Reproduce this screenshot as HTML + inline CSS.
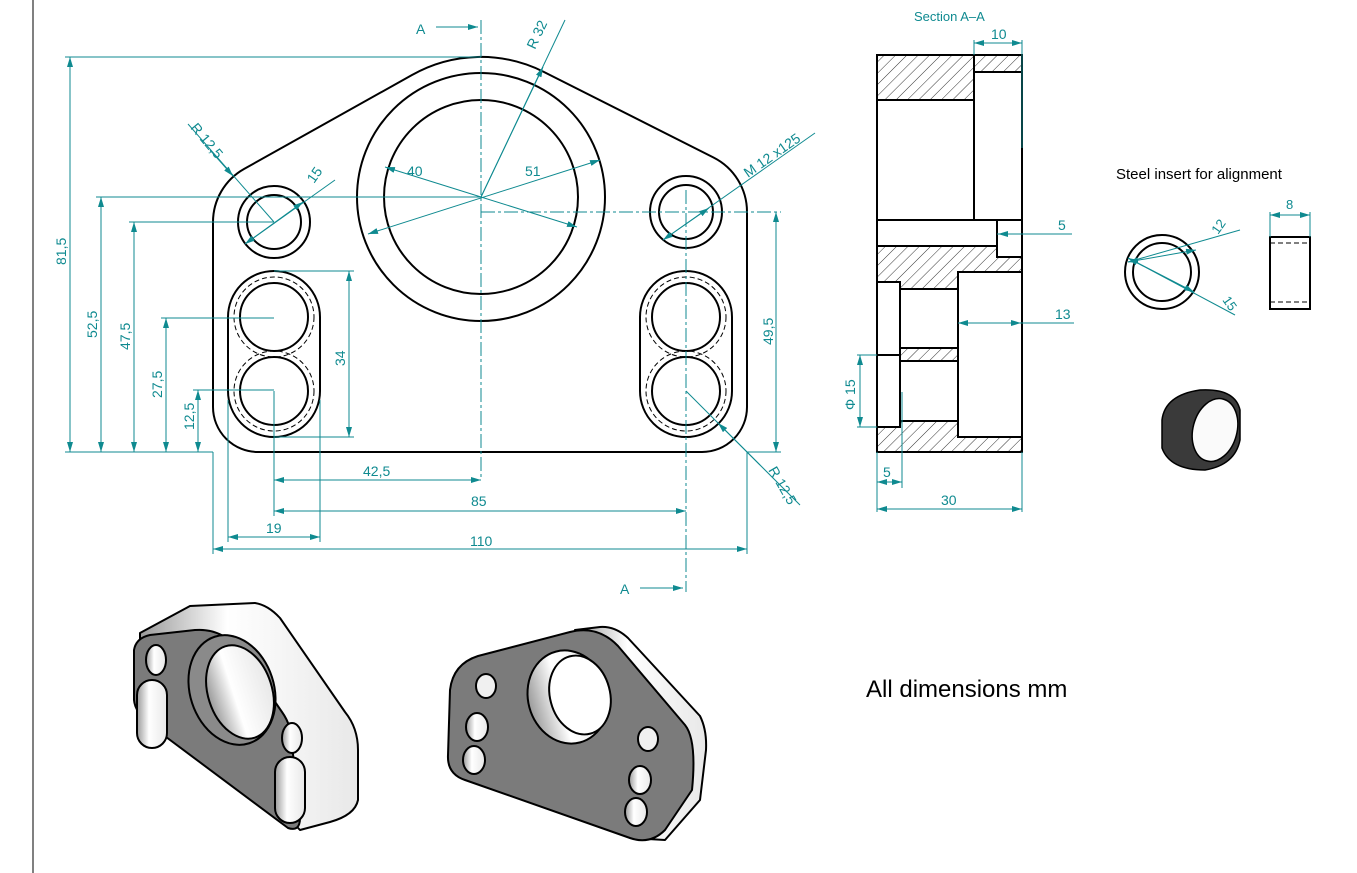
<!DOCTYPE html>
<html><head><meta charset="utf-8"><style>
html,body{margin:0;padding:0;background:#fff;}
svg{display:block;}
text{font-family:"Liberation Sans",sans-serif;}
</style></head><body>
<svg width="1357" height="873" viewBox="0 0 1357 873" xmlns="http://www.w3.org/2000/svg">
<defs>
<pattern id="h" patternUnits="userSpaceOnUse" width="8" height="8" patternTransform="rotate(45)">
<line x1="0" y1="0" x2="0" y2="8" stroke="#000" stroke-width="0.8"/>
</pattern>
<marker id="a" viewBox="0 0 10 6" refX="10" refY="3" markerWidth="10" markerHeight="6" orient="auto-start-reverse" markerUnits="userSpaceOnUse">
<path d="M0,0 L10,3 L0,6 z" fill="#0f8a90"/>
</marker>
<linearGradient id="gw" x1="0" y1="0" x2="1" y2="0"><stop offset="0" stop-color="#9a9a9a"/><stop offset="0.4" stop-color="#fff"/><stop offset="1" stop-color="#e8e8e8"/></linearGradient>
</defs>
<line x1="33" y1="0" x2="33" y2="873" stroke="#000" stroke-width="1"/>

<g fill="none" stroke="#000" stroke-width="2">
<path d="M213,222 L213,407 A45,45 0 0 0 258,452 L702,452 A45,45 0 0 0 747,407 L747,212 A61,61 0 0 0 713.5,157.5 L544,72 A140,140 0 0 0 412,75 L244,169 A61,61 0 0 0 213,222 Z"/>
<circle cx="481" cy="197" r="124"/>
<circle cx="481" cy="197" r="97"/>
<circle cx="274" cy="222" r="36"/><circle cx="274" cy="222" r="27"/>
<circle cx="686" cy="212" r="36"/><circle cx="686" cy="212" r="27"/>
<rect x="228" y="271" width="92" height="166" rx="46"/>
<rect x="640" y="271" width="92" height="166" rx="46"/>
<circle cx="274" cy="317" r="34"/><circle cx="274" cy="391" r="34"/>
<circle cx="686" cy="317" r="34"/><circle cx="686" cy="391" r="34"/>
</g>
<g fill="none" stroke="#000" stroke-width="1" stroke-dasharray="5,3">
<circle cx="274" cy="317" r="40"/><circle cx="274" cy="391" r="40"/>
<circle cx="686" cy="317" r="40"/><circle cx="686" cy="391" r="40"/>
</g>

<g stroke="#0f8a90" stroke-width="1" fill="none">
<line x1="481" y1="20" x2="481" y2="480" stroke-dasharray="14,3,3,3"/>
<line x1="686" y1="190" x2="686" y2="592" stroke-dasharray="14,3,3,3"/>
<line x1="481" y1="212" x2="781" y2="212" stroke-dasharray="14,3,3,3"/>
<line x1="436" y1="27" x2="478" y2="27" marker-end="url(#a)"/>
<line x1="640" y1="588" x2="683" y2="588" marker-end="url(#a)"/>
<line x1="65" y1="57" x2="481" y2="57"/>
<line x1="65" y1="452" x2="213" y2="452"/>
<line x1="747" y1="452" x2="781" y2="452"/>
<line x1="96" y1="197" x2="481" y2="197"/>
<line x1="129" y1="222" x2="274" y2="222"/>
<line x1="161" y1="318" x2="274" y2="318"/>
<line x1="193" y1="390" x2="274" y2="390"/>
<line x1="274" y1="271" x2="354" y2="271"/>
<line x1="274" y1="437" x2="354" y2="437"/>
<line x1="70" y1="57" x2="70" y2="452" marker-start="url(#a)" marker-end="url(#a)"/>
<line x1="101" y1="197" x2="101" y2="452" marker-start="url(#a)" marker-end="url(#a)"/>
<line x1="134" y1="222" x2="134" y2="452" marker-start="url(#a)" marker-end="url(#a)"/>
<line x1="166" y1="318" x2="166" y2="452" marker-start="url(#a)" marker-end="url(#a)"/>
<line x1="198" y1="390" x2="198" y2="452" marker-start="url(#a)" marker-end="url(#a)"/>
<line x1="349" y1="271" x2="349" y2="437" marker-start="url(#a)" marker-end="url(#a)"/>
<line x1="776" y1="212" x2="776" y2="452" marker-start="url(#a)" marker-end="url(#a)"/>
<line x1="274" y1="391" x2="274" y2="516"/>
<line x1="228" y1="400" x2="228" y2="542"/>
<line x1="320" y1="400" x2="320" y2="542"/>
<line x1="213" y1="452" x2="213" y2="554"/>
<line x1="747" y1="452" x2="747" y2="554"/>
<line x1="274" y1="480" x2="481" y2="480" marker-start="url(#a)" marker-end="url(#a)"/>
<line x1="274" y1="511" x2="686" y2="511" marker-start="url(#a)" marker-end="url(#a)"/>
<line x1="228" y1="537" x2="320" y2="537" marker-start="url(#a)" marker-end="url(#a)"/>
<line x1="213" y1="549" x2="747" y2="549" marker-start="url(#a)" marker-end="url(#a)"/>
<line x1="481" y1="197" x2="565" y2="20" />
<line x1="481" y1="197" x2="543" y2="67" marker-end="url(#a)"/>
<line x1="368" y1="234" x2="600" y2="160" marker-start="url(#a)" marker-end="url(#a)"/>
<line x1="385" y1="167" x2="481" y2="197" marker-start="url(#a)"/>
<line x1="481" y1="197" x2="577" y2="227" marker-end="url(#a)"/>
<line x1="188" y1="124" x2="274" y2="222"/>
<line x1="210" y1="150" x2="233" y2="176" marker-end="url(#a)"/>
<line x1="245" y1="244" x2="335" y2="180"/>
<line x1="303" y1="202" x2="245" y2="244" marker-start="url(#a)" marker-end="url(#a)"/>
<line x1="663" y1="240" x2="815" y2="133"/>
<line x1="709" y1="208" x2="663" y2="240" marker-start="url(#a)" marker-end="url(#a)"/>
<line x1="686" y1="391" x2="800" y2="505"/>
<line x1="760" y1="465" x2="718" y2="423" marker-end="url(#a)"/>
</g>
<g fill="#0f8a90" font-size="14">
<text x="416" y="34">A</text>
<text x="620" y="594">A</text>
<text transform="translate(66,265) rotate(-90)">81,5</text>
<text transform="translate(97,338) rotate(-90)">52,5</text>
<text transform="translate(130,350) rotate(-90)">47,5</text>
<text transform="translate(162,398) rotate(-90)">27,5</text>
<text transform="translate(194,430) rotate(-90)">12,5</text>
<text transform="translate(345,366) rotate(-90)">34</text>
<text transform="translate(773,345) rotate(-90)">49,5</text>
<text x="363" y="476">42,5</text>
<text x="471" y="506">85</text>
<text x="266" y="533">19</text>
<text x="470" y="546">110</text>
<text transform="translate(535,50) rotate(-65)">R 32</text>
<text x="407" y="176">40</text>
<text x="525" y="176">51</text>
<text transform="translate(190,128) rotate(50)">R 12,5</text>
<text transform="translate(314,184) rotate(-55)">15</text>
<text transform="translate(748,178) rotate(-35)">M 12 x125</text>
<text transform="translate(768,470) rotate(60)">R 12,5</text>
</g>

<text x="914" y="21" fill="#0f8a90" font-size="13">Section A–A</text>
<g stroke="#000" stroke-width="2">
<rect x="877" y="55" width="97" height="45" fill="url(#h)"/>
<rect x="974" y="55" width="48" height="17" fill="url(#h)"/>
<path d="M877,246 L997,246 L997,257 L1022,257 L1022,272 L958,272 L958,289 L900,289 L900,282 L877,282 Z" fill="url(#h)"/>
<rect x="900" y="348" width="58" height="13" fill="url(#h)"/>
<path d="M877,427 L900,427 L900,421 L958,421 L958,437 L1022,437 L1022,452 L877,452 Z" fill="url(#h)"/>
<rect x="877" y="55" width="145" height="397" fill="none"/>
<path d="M974,72 L974,220 M877,220 L1022,220 M997,220 L997,257 M877,355 L900,355 M900,282 L900,427 M958,272 L958,437" fill="none"/>
</g>
<g stroke="#0f8a90" stroke-width="1" fill="none">
<line x1="974" y1="40" x2="974" y2="55"/><line x1="1022" y1="40" x2="1022" y2="148"/>
<line x1="974" y1="43" x2="1022" y2="43" marker-start="url(#a)" marker-end="url(#a)"/>
<line x1="997" y1="234" x2="1072" y2="234"/>
<line x1="1010" y1="234" x2="998" y2="234" marker-end="url(#a)"/>
<line x1="958" y1="323" x2="1074" y2="323" marker-start="url(#a)"/>
<line x1="1010" y1="323" x2="1021" y2="323" marker-end="url(#a)"/>
<line x1="857" y1="355" x2="877" y2="355"/><line x1="857" y1="427" x2="877" y2="427"/>
<line x1="860" y1="355" x2="860" y2="427" marker-start="url(#a)" marker-end="url(#a)"/>
<line x1="877" y1="452" x2="877" y2="512"/><line x1="1022" y1="452" x2="1022" y2="512"/>
<line x1="902" y1="392" x2="902" y2="488"/>
<line x1="877" y1="482" x2="902" y2="482" marker-start="url(#a)" marker-end="url(#a)"/>
<line x1="877" y1="509" x2="1022" y2="509" marker-start="url(#a)" marker-end="url(#a)"/>
</g>
<g fill="#0f8a90" font-size="14">
<text x="991" y="39">10</text>
<text x="1058" y="230">5</text>
<text x="1055" y="319">13</text>
<text transform="translate(855,410) rotate(-90)">Φ 15</text>
<text x="883" y="477">5</text>
<text x="941" y="505">30</text>
</g>

<text x="1116" y="179" font-size="15" fill="#000">Steel insert for alignment</text>
<g stroke="#000" stroke-width="2" fill="none">
<circle cx="1162" cy="272" r="37"/><circle cx="1162" cy="272" r="29"/>
<rect x="1270" y="237" width="40" height="72"/>
</g>
<g stroke="#000" stroke-width="1" stroke-dasharray="5,3"><line x1="1270" y1="243" x2="1310" y2="243"/><line x1="1270" y1="302" x2="1310" y2="302"/></g>
<g stroke="#0f8a90" stroke-width="1" fill="none">
<line x1="1270" y1="212" x2="1270" y2="237"/><line x1="1310" y1="212" x2="1310" y2="237"/>
<line x1="1270" y1="215" x2="1310" y2="215" marker-start="url(#a)" marker-end="url(#a)"/>
<line x1="1128" y1="262" x2="1240" y2="230"/>
<line x1="1196" y1="250" x2="1128" y2="262" marker-start="url(#a)" marker-end="url(#a)"/>
<line x1="1128" y1="258" x2="1235" y2="315"/>
<line x1="1128" y1="258" x2="1194" y2="292" marker-start="url(#a)" marker-end="url(#a)"/>
</g>
<g fill="#0f8a90" font-size="13">
<text x="1286" y="209">8</text>
<text transform="translate(1218,235) rotate(-55)">12</text>
<text transform="translate(1222,300) rotate(55)">15</text>
</g>
<g stroke="#000" stroke-width="1.5">
<path d="M1162,420 Q1165,395 1200,390 Q1235,388 1240,410 L1240,440 Q1235,465 1205,470 Q1170,470 1162,448 Z" fill="#3a3a3a"/>
<ellipse cx="1215" cy="430" rx="22" ry="32" fill="#fafafa" transform="rotate(15 1215 430)"/>
</g>

<text x="866" y="697" font-size="24" fill="#000">All dimensions mm</text>

<g stroke="#000" stroke-width="2" stroke-linejoin="round">
<path d="M140,633 L190,606 L255,603 Q268,605 280,618 L345,712 Q358,728 358,750 L358,800 Q355,815 330,822 L300,830 L140,660 Z" fill="url(#gw)"/>
<path d="M134,650 Q136,638 150,635 L195,630 Q220,628 238,648 L282,712 Q292,726 292,745 L300,818 Q300,832 288,828 L150,725 Q135,712 134,700 Z" fill="#7b7b7b"/>
<ellipse cx="232" cy="690" rx="42" ry="56" fill="#8a8a8a" transform="rotate(-18 232 690)"/>
<ellipse cx="240" cy="692" rx="32" ry="48" fill="url(#gw)" transform="rotate(-18 240 692)"/>
<ellipse cx="156" cy="660" rx="10" ry="15" fill="url(#gw)"/>
<rect x="137" y="680" width="30" height="68" rx="15" fill="url(#gw)"/>
<ellipse cx="292" cy="738" rx="10" ry="15" fill="url(#gw)"/>
<rect x="275" y="757" width="30" height="66" rx="15" fill="url(#gw)"/>
</g>
<g stroke="#000" stroke-width="2" stroke-linejoin="round">
<path d="M575,630 L600,627 Q615,626 628,638 L700,716 Q707,730 706,750 L700,800 L665,840 L630,838 Z" fill="url(#gw)"/>
<path d="M450,690 Q453,664 478,656 L570,632 Q598,625 618,646 L685,725 Q697,740 692,790 L665,830 Q650,845 630,838 L465,780 Q447,774 448,755 Z" fill="#7b7b7b"/>
<ellipse cx="568" cy="697" rx="40" ry="47" fill="url(#gw)" transform="rotate(-15 568 697)"/>
<ellipse cx="580" cy="695" rx="30" ry="40" fill="#fff" transform="rotate(-15 580 695)"/>
<ellipse cx="486" cy="686" rx="10" ry="12" fill="#f0f0f0"/>
<ellipse cx="648" cy="739" rx="10" ry="12" fill="#f0f0f0"/>
<ellipse cx="477" cy="727" rx="11" ry="14" fill="url(#gw)"/>
<ellipse cx="474" cy="760" rx="11" ry="14" fill="url(#gw)"/>
<ellipse cx="640" cy="780" rx="11" ry="14" fill="url(#gw)"/>
<ellipse cx="636" cy="812" rx="11" ry="14" fill="url(#gw)"/>
</g>
</svg>
</body></html>
